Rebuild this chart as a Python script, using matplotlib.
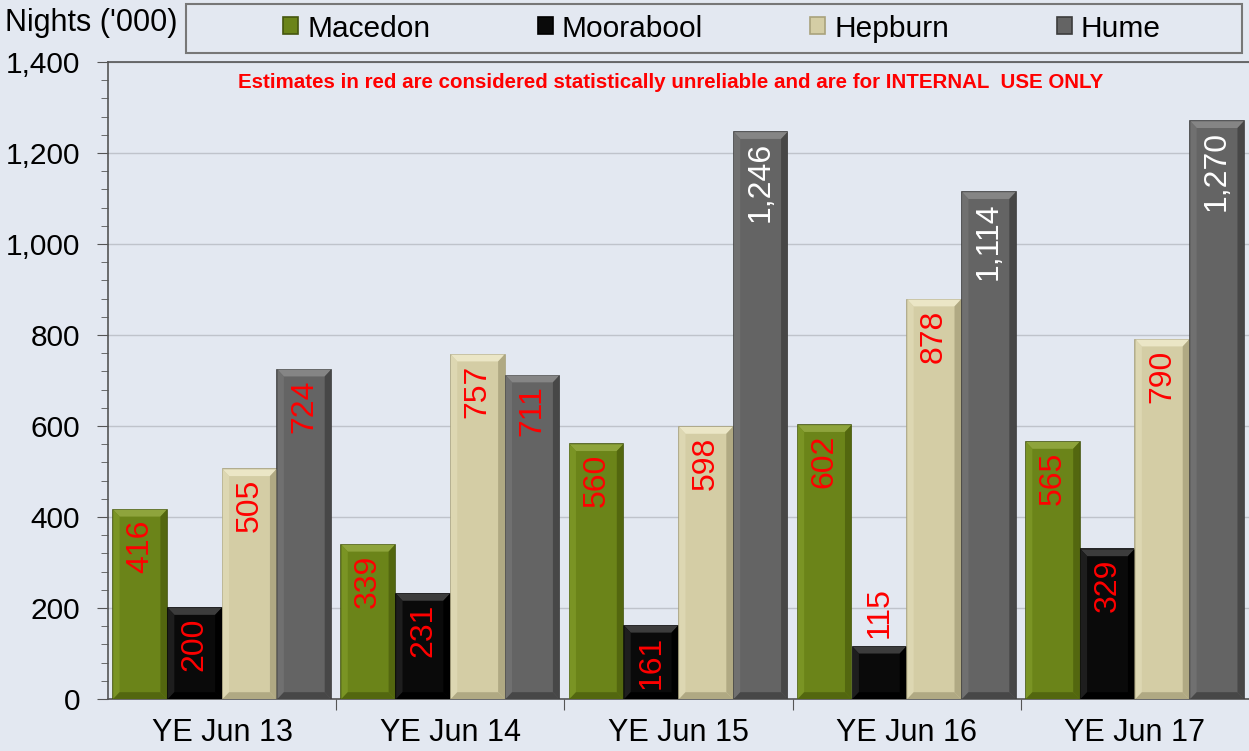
import numpy as np
import matplotlib.pyplot as plt
from matplotlib.patches import Rectangle, Polygon
from matplotlib.ticker import MultipleLocator, FixedLocator, NullFormatter

plt.rcParams['font.family'] = ['Liberation Sans', 'DejaVu Sans']

categories = ['YE Jun 13', 'YE Jun 14', 'YE Jun 15', 'YE Jun 16', 'YE Jun 17']
series = ['Macedon', 'Moorabool', 'Hepburn', 'Hume']
macedon = [416, 339, 560, 602, 565]
moorabool = [200, 231, 161, 115, 329]
hepburn = [505, 757, 598, 878, 790]
hume = [724, 711, 1246, 1114, 1270]
values = [macedon, moorabool, hepburn, hume]

colors = ['#6b8419', '#0a0a0a', '#d4cda5', '#646464']
edges = ['#45560f', '#000000', '#a9a27c', '#3c3c3c']
tops = ['#8ea43c', '#3c3c3c', '#ebe6c6', '#858585']
lefts = ['#7a9424', '#1e1e1e', '#ddd7b2', '#707070']
rights = ['#53670f', '#000000', '#b0a983', '#474747']
bg = '#e3e8f1'

fig = plt.figure(figsize=(12.49, 7.51), dpi=100, facecolor=bg)
ax = fig.add_axes([0.0865, 0.0692, 0.9135, 0.8482], facecolor=bg)

x = np.arange(len(categories))
width = 0.235
offsets = [-0.36, -0.12, 0.12, 0.36]
dx, dy = 0.028, 15
for i in range(4):
    bars = ax.bar(x + offsets[i], values[i], width, color=colors[i], edgecolor=edges[i],
                  linewidth=1.2, label=series[i], zorder=3)
    for b, v in zip(bars, values[i]):
        x0 = b.get_x()
        x1 = x0 + b.get_width()
        # bevel shading
        ax.add_patch(Polygon([(x0, v), (x1, v), (x1 - dx, v - dy), (x0 + dx, v - dy)],
                             closed=True, facecolor=tops[i], edgecolor='none', zorder=3.1))
        ax.add_patch(Polygon([(x0, v), (x0 + dx, v - dy), (x0 + dx, dy), (x0, 0)],
                             closed=True, facecolor=lefts[i], edgecolor='none', zorder=3.1))
        ax.add_patch(Polygon([(x1, v), (x1 - dx, v - dy), (x1 - dx, dy), (x1, 0)],
                             closed=True, facecolor=rights[i], edgecolor='none', zorder=3.1))
        ax.add_patch(Polygon([(x0, 0), (x0 + dx, dy), (x1 - dx, dy), (x1, 0)],
                             closed=True, facecolor=rights[i], edgecolor='none', zorder=3.1))
        cx = (x0 + x1) / 2
        txt = f'{v:,}'
        if v < 150:
            ax.annotate(txt, (cx, v), xytext=(0, 6), textcoords='offset points',
                        rotation=90, ha='center', va='bottom', color='red', fontsize=23, zorder=4)
        else:
            c = 'white' if v >= 1000 else 'red'
            ax.annotate(txt, (cx, v), xytext=(0, -7), textcoords='offset points',
                        rotation=90, ha='center', va='top', color=c, fontsize=23, zorder=4)

ax.set_xlim(-0.5, 4.5)
ax.set_ylim(0, 1400)
ax.yaxis.set_major_locator(MultipleLocator(200))
ax.yaxis.set_minor_locator(MultipleLocator(40))
ax.yaxis.set_major_formatter(plt.FuncFormatter(lambda v, p: f'{int(v):,}'))
ax.grid(axis='y', which='major', color='#bfc3cb', linewidth=1, zorder=0)
ax.tick_params(axis='y', which='major', length=8, color='#555555', labelsize=21.5, pad=12)
ax.tick_params(axis='y', which='minor', length=5, color='#555555')

ax.xaxis.set_major_locator(FixedLocator(x[:-1] + 0.5))
ax.xaxis.set_major_formatter(NullFormatter())
ax.xaxis.set_minor_locator(FixedLocator(x))
ax.set_xticklabels(categories, minor=True)
ax.tick_params(axis='x', which='major', length=8, color='#555555')
ax.tick_params(axis='x', which='minor', length=0, labelsize=22, pad=14)

for s in ['left', 'bottom', 'top']:
    ax.spines[s].set_color('#555555')
    ax.spines[s].set_linewidth(1.2)
ax.spines['right'].set_visible(False)

ax.text(0.493, 0.982, 'Estimates in red are considered statistically unreliable and are for INTERNAL  USE ONLY',
        transform=ax.transAxes, ha='center', va='top', color='red', fontsize=14.8, fontweight='bold')

fig.text(0.004, 0.97, "Nights ('000)", ha='left', va='center', fontsize=22)

fig.patches.append(Rectangle((0.149, 0.929), 0.845, 0.066, transform=fig.transFigure,
                             facecolor=bg, edgecolor='#777777', linewidth=1.5))
fig.legend(loc='center', bbox_to_anchor=(0.578, 0.962), ncol=4, frameon=False, fontsize=21.5,
           handlelength=0.5, handleheight=0.5, handletextpad=0.3, columnspacing=3.6)

fig.savefig('out.png', dpi=100, facecolor=bg)
